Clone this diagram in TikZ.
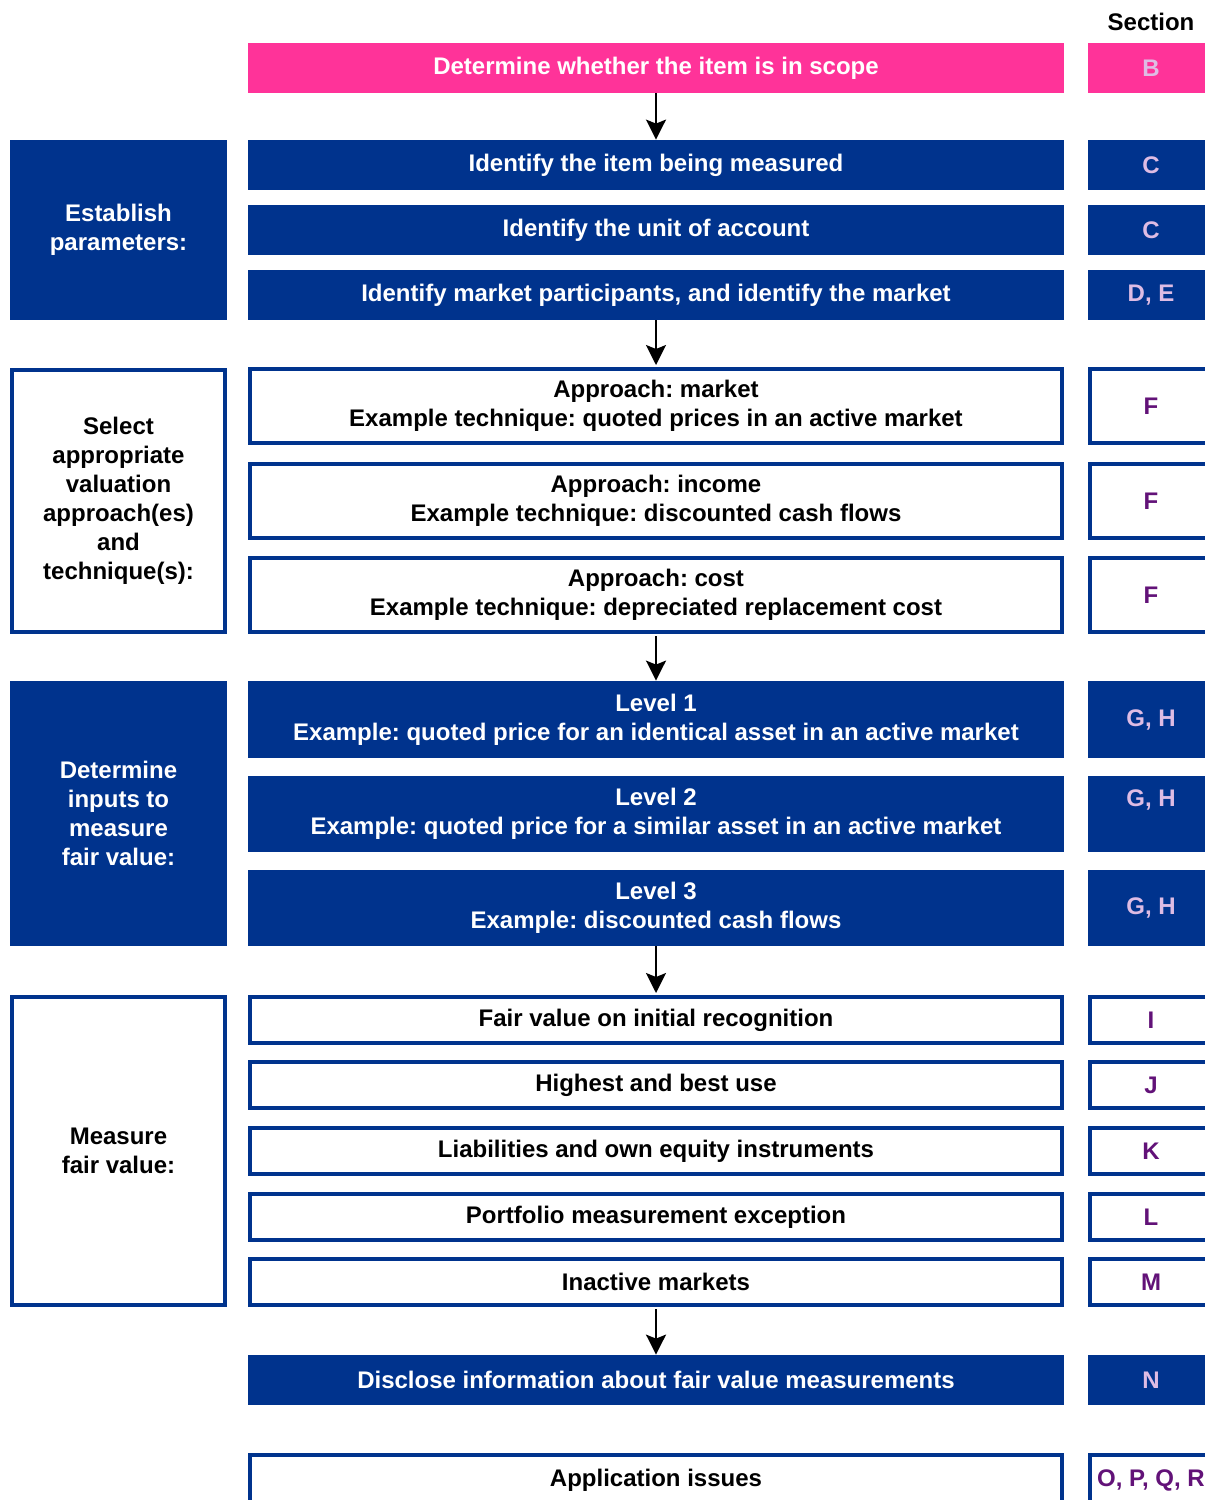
\documentclass[tikz,border=0pt]{standalone}
\usepackage{fontspec}
\setmainfont{Liberation Sans}
\usetikzlibrary{arrows.meta}
\definecolor{kblue}{RGB}{0,51,141}
\definecolor{kpink}{RGB}{255,51,153}
\definecolor{klilac}{RGB}{222,188,228}
\definecolor{kpurple}{RGB}{98,18,120}
\frenchspacing
\begin{document}
\begin{tikzpicture}[x=0.5pt,y=-0.5pt,
    every node/.style={font=\bfseries\fontsize{12}{14.5}\selectfont, align=center, inner sep=0pt},
    bluebox/.style={fill=kblue, text=white, minimum width=408pt, minimum height=#1},
    bluebox/.default=25pt,
    pinkbox/.style={fill=kpink, text=white, minimum width=408pt, minimum height=25pt},
    whitebox/.style={draw=kblue, line width=2pt, fill=white, minimum width=406pt, minimum height=#1},
    whitebox/.default=23pt,
    secblue/.style={fill=kblue, text=klilac, minimum width=63pt, minimum height=#1},
    secblue/.default=25pt,
    secwhite/.style={draw=kblue, line width=2pt, text=kpurple, minimum width=61pt, minimum height=#1},
    secwhite/.default=23pt,
    sideblue/.style={fill=kblue, text=white, minimum width=108.5pt, minimum height=#1},
    sidewhite/.style={draw=kblue, line width=2pt, minimum width=106.5pt, minimum height=#1},
    arr/.style={-{Stealth[length=10pt,width=10pt,inset=2pt]}, line width=1pt}]
    \useasboundingbox (0,0) rectangle (1205,1500);
    \clip (0,0) rectangle (1205,1500);
    \node (section) at (1151,22) {Section};
    \node[pinkbox] (scope) at (656,68) {Determine whether the item is in scope};
    \node[fill=kpink, text=klilac, minimum width=63pt, minimum height=25pt] (sB) at (1151,68) {B};
    \node[sideblue=90pt] (param) at (118.5,230) {Establish\\parameters:};
    \node[bluebox] (item) at (656,165) {Identify the item being measured};
    \node[bluebox] (unit) at (656,230) {Identify the unit of account};
    \node[bluebox] (market) at (656,295) {Identify market participants, and identify the market};
    \node[secblue] (sC1) at (1151,165) {C};
    \node[secblue] (sC2) at (1151,230) {C};
    \node[secblue] (sDE) at (1151,295) {D, E};
    \node[sidewhite=131pt] (select) at (118.5,501) {Select\\appropriate\\valuation\\approach(es)\\and\\technique(s):};
    \node[whitebox=37pt] (apmarket) at (656,406) {Approach: market\\Example technique: quoted prices in an active market};
    \node[whitebox=37pt] (apincome) at (656,501) {Approach: income\\Example technique: discounted cash flows};
    \node[whitebox=37pt] (apcost) at (656,595) {Approach: cost\\Example technique: depreciated replacement cost};
    \node[secwhite=37pt] (sF1) at (1151,406) {F};
    \node[secwhite=37pt] (sF2) at (1151,501) {F};
    \node[secwhite=37pt] (sF3) at (1151,595) {F};
    \node[sideblue=132.5pt] (inputs) at (118.5,813.5) {Determine\\inputs to\\measure\\fair value:};
    \node[bluebox=38.5pt] (level1) at (656,719.5) {Level 1\\Example: quoted price for an identical asset in an active market};
    \node[bluebox=38pt] (level2) at (656,814) {Level 2\\Example: quoted price for a similar asset in an active market};
    \node[bluebox=38pt] (level3) at (656,908) {Level 3\\Example: discounted cash flows};
    \node[secblue=38.5pt] (sG1) at (1151,719.5) {G, H};
    \node[secblue=38pt] (sG2) at (1151,814) {};
    \node[text=klilac] (sG2t) at (1151,800) {G, H};
    \node[secblue=38pt] (sG3) at (1151,908) {G, H};
    \node[sidewhite=154pt] (measure) at (118.5,1151) {Measure\\fair value:};
    \node[whitebox] (initial) at (656,1020) {Fair value on initial recognition};
    \node[whitebox] (hbu) at (656,1085) {Highest and best use};
    \node[whitebox] (liab) at (656,1151) {Liabilities and own equity instruments};
    \node[whitebox] (portfolio) at (656,1217) {Portfolio measurement exception};
    \node[whitebox] (inactive) at (656,1282) {Inactive markets};
    \node[secwhite] (sI) at (1151,1020) {I};
    \node[secwhite] (sJ) at (1151,1085) {J};
    \node[secwhite] (sK) at (1151,1151) {K};
    \node[secwhite] (sL) at (1151,1217) {L};
    \node[secwhite] (sM) at (1151,1282) {M};
    \node[bluebox] (disclose) at (656,1380) {Disclose information about fair value measurements};
    \node[secblue] (sN) at (1151,1380) {N};
    \node[whitebox=25pt] (issues) at (656,1480) {Application issues};
    \node[secwhite=25pt] (sO) at (1151,1480) {O, P, Q, R};
    \draw[arr] (scope) -- (item);
    \draw[arr, shorten >=1pt] (market) -- (apmarket);
    \draw[arr, shorten <=1pt] (apcost) -- (level1);
    \draw[arr, shorten >=1pt] (level3) -- (initial);
    \draw[arr, shorten <=1pt] (inactive) -- (disclose);
\end{tikzpicture}
\end{document}
